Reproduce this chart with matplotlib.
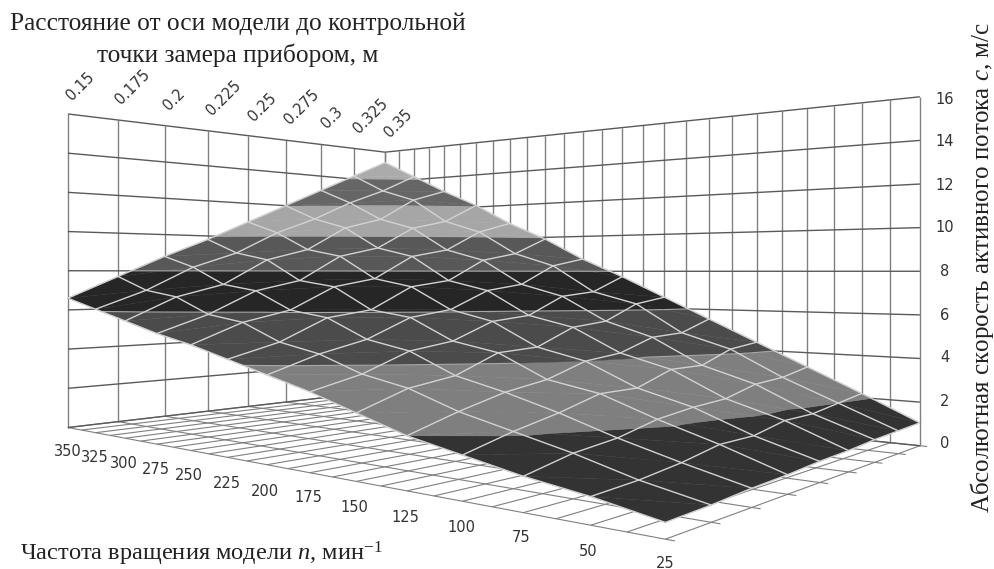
import numpy as np
import matplotlib
matplotlib.use("Agg")
import matplotlib.pyplot as plt
from mpl_toolkits.mplot3d.art3d import Poly3DCollection, Line3DCollection

plt.rcParams["mathtext.fontset"] = "custom"
plt.rcParams["mathtext.rm"] = "Liberation Serif"
plt.rcParams["mathtext.it"] = "Liberation Serif:italic"

W, H = 995, 569

distances = ["0.15", "0.175", "0.2", "0.225", "0.25", "0.275", "0.3", "0.325", "0.35"]
speeds = ["350", "325", "300", "275", "250", "225", "200", "175", "150", "125", "100", "75", "50", "25"]
z_ticks = [0, 2, 4, 6, 8, 10, 12, 14, 16]

# absolute speed, rows = speeds, columns = distances
velocity = np.array([
    [6.6, 7.7, 8.8, 9.8, 10.9, 12.0, 13.1, 14.2, 15.3],
    [6.1, 7.0, 8.2, 9.0, 10.2, 11.1, 12.2, 13.1, 14.2],
    [5.6, 6.7, 7.3, 8.6, 9.2, 10.5, 11.1, 12.4, 13.1],
    [5.1, 5.9, 7.0, 7.5, 8.8, 9.3, 10.5, 11.0, 12.1],
    [4.7, 5.6, 6.1, 7.2, 7.6, 8.8, 9.2, 10.3, 10.9],
    [4.2, 4.8, 5.8, 6.1, 7.2, 7.5, 8.6, 9.0, 9.9],
    [3.7, 4.4, 4.9, 5.8, 6.1, 7.0, 7.3, 8.3, 8.7],
    [3.2, 3.7, 4.5, 4.8, 5.6, 5.8, 6.7, 6.9, 7.7],
    [2.6, 3.3, 3.6, 4.4, 4.5, 5.3, 5.5, 6.3, 6.6],
    [2.0, 2.6, 3.1, 3.4, 4.0, 4.2, 4.8, 4.9, 5.5],
    [1.6, 2.1, 2.5, 3.0, 3.0, 3.6, 3.6, 4.2, 4.4],
    [1.2, 1.6, 1.8, 2.2, 2.4, 2.5, 2.9, 3.0, 3.3],
    [0.9, 1.0, 1.2, 1.5, 1.5, 1.8, 1.8, 2.0, 2.2],
    [0.5, 0.55, 0.65, 0.7, 0.8, 0.85, 0.95, 1.0, 1.05],
])

band_levels = [0, 2, 4, 6, 8, 10, 12, 14, 16]
band_colors = ["#333333", "#7f7f7f", "#4b4b4b", "#262626", "#585858", "#a6a6a6", "#666666", "#ababab"]


def px(x, y):
    return x / W, 1 - y / H


fig = plt.figure(figsize=(W / 100, H / 100), dpi=100)
ax = fig.add_axes([0, 0, 1, 1], projection="3d", computed_zorder=False)
ax.set_axis_off()
ax.apply_aspect = lambda position=None: None  # keep the axes full size, not square
nd, nn = len(distances), len(speeds)
ax.set_xlim(0, nd - 1)
ax.set_ylim(0, nn - 1)
ax.set_zlim(0, 16)
ax.autoscale(False)

# box corners in the picture: (distance index, speed index, z) -> pixel
corners = [
    (0, 0, 0, 68, 427), (0, 0, 16, 68, 114),
    (8, 0, 0, 385, 391), (8, 0, 16, 385, 152),
    (8, 13, 0, 920, 445), (8, 13, 16, 920, 97),
    (0, 13, 0, 665, 540),
]
to_data = ax.transData.inverted()
rows, rhs = [], []
for i, j, z, x, y in corners:
    u, v = to_data.transform(fig.transFigure.transform(px(x, y)))
    rows.append([i, j, 1, 0, 0, 0, 0, -u * i, -u * j])
    rhs.append(u)
    rows.append([0, 0, 0, i, j, z, 1, -v * i, -v * j])
    rhs.append(v)
a, b, d, e, f, g, h, p, q = np.linalg.lstsq(np.array(rows, float), np.array(rhs, float), rcond=None)[0]
M = np.array([[a, b, 0, d], [e, f, g, h], [0.01, 0, 0, 0], [p, q, 0, 1]])
ax.get_proj = lambda: M

zmax = 16
half = np.arange(0, nn - 0.5, 0.5)

verticals = [[(i, 0, 0), (i, 0, zmax)] for i in range(nd)]
verticals += [[(nd - 1, j, 0), (nd - 1, j, zmax)] for j in half]
horizontals = []
for z in z_ticks:
    horizontals.append([(0, 0, z), (nd - 1, 0, z)])
    horizontals.append([(nd - 1, 0, z), (nd - 1, nn - 1, z)])
floor = [[(0, j, 0), (nd - 1, j, 0)] for j in half]
floor += [[(i, 0, 0), (i, nn - 1 + 0.12, 0)] for i in range(nd)]
ax.add_collection3d(Line3DCollection(floor, colors="#808080", linewidths=0.8, zorder=1), autolim=False)
ax.add_collection3d(Line3DCollection(verticals, colors="#808080", linewidths=1.0, zorder=1), autolim=False)
ax.add_collection3d(Line3DCollection(horizontals, colors="#5a5a5a", linewidths=1.0, zorder=1), autolim=False)


def clip_band(tri, lo, hi):
    # cut a triangle to the part between two heights
    out = list(tri)
    for level, sign in ((lo, 1), (hi, -1)):
        cut = []
        for k in range(len(out)):
            s, t = np.array(out[k]), np.array(out[(k + 1) % len(out)])
            ds, dt = sign * (s[2] - level), sign * (t[2] - level)
            if ds >= 0:
                cut.append(s)
            if ds * dt < 0:
                cut.append(s + (t - s) * ds / (ds - dt))
        out = cut
        if not out:
            break
    return out


def level_cut(tri, level):
    pts = []
    for k in range(3):
        s, t = np.array(tri[k]), np.array(tri[(k + 1) % 3])
        if (s[2] - level) * (t[2] - level) < 0:
            pts.append(s + (t - s) * (level - s[2]) / (t[2] - s[2]))
    return pts


tris = []
for j in range(nn - 1):
    for i in range(nd - 1):
        p00 = (i, j, velocity[j, i])
        p10 = (i + 1, j, velocity[j, i + 1])
        p01 = (i, j + 1, velocity[j + 1, i])
        p11 = (i + 1, j + 1, velocity[j + 1, i + 1])
        tris += [(p00, p10, p11), (p00, p11, p01)]

for b_i, color in enumerate(band_colors):
    polys = []
    for tri in tris:
        part = clip_band(tri, band_levels[b_i], band_levels[b_i + 1])
        if len(part) > 2:
            polys.append(part)
    ax.add_collection3d(Poly3DCollection(polys, facecolors=color, edgecolors=color, linewidths=0.3, zorder=3),
                        autolim=False)

# thin light line where the bands meet
contours = []
for level in band_levels[2:-1]:
    for tri in tris:
        pts = level_cut(tri, level)
        if len(pts) == 2:
            contours.append(pts)
ax.add_collection3d(Line3DCollection(contours, colors="#a8a8a8", linewidths=0.8, zorder=4), autolim=False)

# white mesh on the surface
mesh = []
for i in range(nd):
    mesh.append([(i, j, velocity[j, i]) for j in range(nn)])
for j in range(nn):
    mesh.append([(i, j, velocity[j, i]) for i in range(nd)])
ax.add_collection3d(Line3DCollection(mesh, colors="#d2d2d2", linewidths=1.0, zorder=5), autolim=False)

# tick labels
tick_c = "#333333"
d_pos = [(80, 86), (133, 87), (174, 100), (224, 98), (262, 107), (302, 107), (332, 118), (371, 116), (398, 123)]
for s, (x, y) in zip(distances, d_pos):
    fig.text(*px(x, y), s, rotation=45, ha="center", va="center", fontsize=10.5, color=tick_c)
n_pos = [(68, 452), (95, 458), (124, 463), (156, 469), (189, 476), (227, 483), (265, 491), (308, 498), (354, 507),
         (405, 517), (461, 527), (521, 538), (588, 551), (665, 563)]
for s, (x, y) in zip(speeds, n_pos):
    fig.text(*px(x, y), s, ha="center", va="center", fontsize=10.5, color=tick_c)
z_pos = [444, 402, 357, 315, 272, 228, 185, 142, 99]
for s, y in zip(z_ticks, z_pos):
    fig.text(*px(945, y), str(s), ha="center", va="center", fontsize=10.5, color=tick_c)

serif = "Liberation Serif"
text_c = "#222222"
fig.text(*px(238, 24), "Расстояние от оси модели до контрольной", family=serif, fontsize=18.3, ha="center", va="center", color=text_c)
fig.text(*px(238, 55), "точки замера прибором, м", family=serif, fontsize=18.3, ha="center", va="center", color=text_c)
fig.text(*px(20, 554), "Частота вращения модели $\\mathit{n}$, мин$^{-1}$", family=serif, fontsize=17.6, ha="left", va="center", color=text_c)
fig.text(*px(982, 268), "Абсолютная скорость активного потока $\\mathit{c}$, м/с", family=serif, fontsize=18, rotation=90, ha="center", va="center", color=text_c)

fig.savefig("out.png", dpi=100)
